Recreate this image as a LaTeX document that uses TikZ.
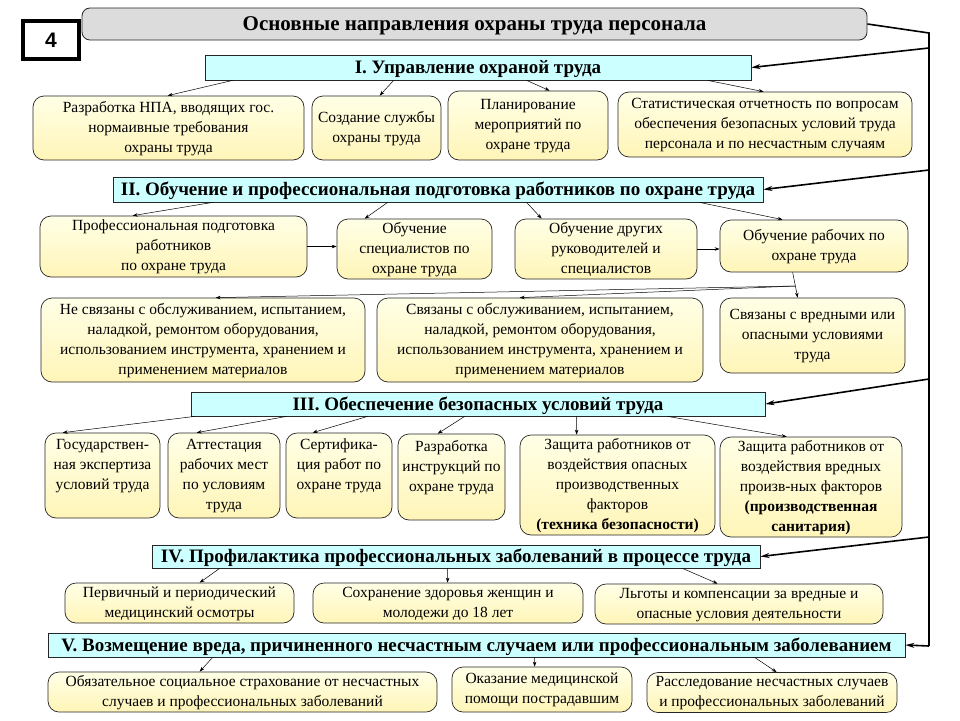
\documentclass[tikz,border=0pt]{standalone}
\usepackage{fontspec}
\setmainfont{Liberation Serif}
\newfontfamily\numfont{Liberation Sans}
\usetikzlibrary{arrows.meta,shadings,calc}
\definecolor{ytop}{HTML}{FFFFE6}
\definecolor{ybot}{HTML}{FFF5B8}
\definecolor{cyfill}{HTML}{CCFFFF}
\definecolor{gfill}{HTML}{DCDCDC}
\newcommand\tx[1]{\begin{tabular}{@{}c@{}}#1\end{tabular}}
\begin{document}
\begin{tikzpicture}[x=1pt,y=-1pt,
  ybox/.style={draw=black!85, line width=0.7pt, rounded corners=11pt, top color=ytop, bottom color=ybot, inner sep=0pt, font=\fontsize{15.5}{20}\selectfont},
  hbox/.style={draw=black!85, line width=0.8pt, fill=cyfill, inner sep=0pt, text height=12.5pt, text depth=0.5pt, font=\bfseries\fontsize{19}{20}\selectfont},
  arr/.style={-{Stealth[length=5pt,width=3.5pt]}, line width=0.5pt},
  busarr/.style={-{Stealth[length=9pt,width=5pt]}, line width=1.6pt},
  busline/.style={line width=1.6pt}]
\useasboundingbox (0,0) rectangle (960,720);
\fill[white] (0,0) rectangle (960,720);

% title
\node[draw=black!85, line width=0.8pt, rounded corners=8pt, fill=gfill, minimum width=785, minimum height=32, inner sep=0pt, text height=14pt, text depth=1pt, font=\bfseries\fontsize{21}{22}\selectfont] (T) at (474.5,24) {Основные направления охраны труда персонала};
\node[draw=black, line width=4pt, fill=white, minimum width=56, minimum height=38, inner sep=0pt, font=\numfont\bfseries\fontsize{21}{22}\selectfont] (N) at (51,40) {4};

% bus
\coordinate (bt) at (929,33);
\coordinate (bb) at (929,646);
\coordinate (b1) at (929,48);
\coordinate (b2) at (929,170);
\coordinate (b3) at (929,379);
\coordinate (b4) at (929,537);

% Section I
\node[hbox, minimum width=546, minimum height=25] (H1) at (478,67.5) {I. Управление охраной труда};
\node[ybox, minimum width=271, minimum height=64] (A1) at (168.5,128) {\tx{Разработка НПА, вводящих гос.\\нормаивные требования\\охраны труда}};
\node[ybox, minimum width=129, minimum height=64] (A2) at (376.5,128) {\tx{Создание службы\\охраны труда}};
\node[ybox, minimum width=160, minimum height=69] (A3) at (528,125.5) {\tx{Планирование\\мероприятий по\\охране труда}};
\node[ybox, minimum width=294, minimum height=65] (A4) at (765,124.5) {\tx{Статистическая отчетность по вопросам\\обеспечения безопасных условий  труда\\персонала и по несчастным случаям}};

% Section II
\node[hbox, minimum width=650, minimum height=25] (H2) at (438,189.5) {II. Обучение и профессиональная подготовка работников по охране труда};
\node[ybox, minimum width=267, minimum height=61] (B1) at (173.5,246.5) {\tx{Профессиональная подготовка\\работников\\по охране труда}};
\node[ybox, minimum width=155, minimum height=58] (B2) at (414.5,249) {\tx{Обучение\\специалистов по\\охране труда}};
\node[ybox, minimum width=182, minimum height=58] (B3) at (606,249) {\tx{Обучение других\\руководителей и\\специалистов}};
\node[ybox, minimum width=188, minimum height=52] (B4) at (814,246) {\tx{Обучение рабочих  по\\охране труда}};
\node[ybox, minimum width=324, minimum height=84] (C1) at (203,340) {\tx{Не связаны с обслуживанием, испытанием,\\наладкой, ремонтом оборудования,\\использованием инструмента, хранением и\\применением материалов}};
\node[ybox, minimum width=326, minimum height=84] (C2) at (540,340) {\tx{Связаны с  обслуживанием, испытанием,\\наладкой, ремонтом оборудования,\\использованием инструмента, хранением и\\применением материалов}};
\node[ybox, minimum width=185, minimum height=75] (C3) at (812.5,335.5) {\tx{Связаны с вредными или\\опасными условиями\\труда}};

% Section III
\node[hbox, minimum width=574, minimum height=24] (H3) at (478,404) {III. Обеспечение безопасных условий труда};
\node[ybox, minimum width=115, minimum height=85] (D1) at (102.5,475.5) {\tx{Государствен-\\ная экспертиза\\условий труда\\\mbox{}}};
\node[ybox, minimum width=112, minimum height=85] (D2) at (224,475.5) {\tx{Аттестация\\рабочих мест\\по условиям\\труда}};
\node[ybox, minimum width=106, minimum height=85] (D3) at (339,475.5) {\tx{Сертифика-\\ция работ по\\охране труда\\\mbox{}}};
\node[ybox, minimum width=107, minimum height=86] (D4) at (451.5,477) {\tx{Разработка\\инструкций по\\охране труда\\\mbox{}}};
\node[ybox, minimum width=195, minimum height=100] (D5) at (617.5,485) {\tx{Защита работников от\\воздействия  опасных\\производственных\\факторов\\\textbf{(техника безопасности)}}};
\node[ybox, minimum width=182, minimum height=100] (D6) at (811,487) {\tx{Защита работников от\\воздействия  вредных\\произв-ных факторов\\\textbf{(производственная}\\\textbf{санитария)}}};

% Section IV
\node[hbox, minimum width=608, minimum height=23] (H4) at (456,556.5) {IV. Профилактика профессиональных заболеваний в процессе труда};
\node[ybox, minimum width=229, minimum height=40] (E1) at (179.5,603) {\tx{Первичный и периодический\\медицинский осмотры}};
\node[ybox, minimum width=270, minimum height=40] (E2) at (448,603) {\tx{Сохранение здоровья женщин и\\молодежи до 18 лет}};
\node[ybox, minimum width=288, minimum height=38] (E3) at (739,604) {\tx{Льготы и компенсации за вредные и\\опасные условия деятельности}};

% Section V
\node[hbox, minimum width=857, minimum height=24] (H5) at (476.5,645) {V. Возмещение вреда, причиненного несчастным случаем или профессиональным заболеванием};
\node[ybox, minimum width=389, minimum height=40] (F1) at (242.5,692) {\tx{Обязательное социальное страхование от несчастных\\случаев и профессиональных заболеваний}};
\node[ybox, minimum width=180, minimum height=45] (F2) at (542,689.5) {\tx{Оказание медицинской\\помощи пострадавшим}};
\node[ybox, minimum width=250, minimum height=39] (F3) at (772,692.5) {\tx{Расследование несчастных случаев\\и профессиональных заболеваний}};

% bus lines
\draw[busline] (T.east) -- (bt) -- (bb);
\draw[busarr] (b1) -- (H1.east);
\draw[busarr] (b2) -- (H2.east);
\draw[busarr] (b3) -- (H3.east);
\draw[busarr] (b4) -- (H4.east);
\draw[busarr] (bb) -- (H5.east);

% I arrows
\draw[arr] ([xshift=28]H1.south west) -- ([xshift=135]A1.north west);
\draw[arr] ([xshift=189]H1.south west) -- ([xshift=68]A2.north west);
\draw[arr] ([xshift=322]H1.south west) -- ([xshift=102]A3.north west);
\draw[arr] ([xshift=503]H1.south west) -- ([xshift=146]A4.north west);

% II arrows
\draw[arr] ([xshift=100]H2.south west) -- ([xshift=93]B1.north west);
\draw[arr] ([xshift=275]H2.south west) -- ([xshift=28]B2.north west);
\draw[arr] ([xshift=414]H2.south west) -- ([xshift=27]B3.north west);
\draw[arr] ([xshift=587]H2.south west) -- ([xshift=63]B4.north west);
\draw[arr] (B1.east) -- (B1.east -| B2.west);
\draw[arr] (B3.east) -- (B3.east -| B4.west);
\draw[arr] ([xshift=73]B4.south west) -- ([xshift=78]C3.north west);
\coordinate (br) at (795,286);
\draw[arr] (br) -- ([xshift=175]C1.north west);
\draw[arr] (br) -- ([xshift=143]C2.north west);

% III arrows
\draw[arr] ([xshift=4]H3.south west) -- ([xshift=18]D1.north west);
\draw[arr] ([xshift=96]H3.south west) -- ([xshift=29]D2.north west);
\draw[arr] ([xshift=177]H3.south west) -- ([xshift=27]D3.north west);
\draw[arr] ([xshift=274]H3.south west) -- ([xshift=40]D4.north west);
\draw[arr] ([xshift=386]H3.south west) -- ([xshift=57]D5.north west);
\draw[arr] ([xshift=477]H3.south west) -- ([xshift=67]D6.north west);

% IV arrows
\draw[arr] ([xshift=68]H4.south west) -- ([xshift=135]E1.north west);
\draw[arr] ([xshift=296]H4.south west) -- ([xshift=135]E2.north west);
\draw[arr] ([xshift=531]H4.south west) -- ([xshift=123]E3.north west);

% V arrows
\draw[arr] ([xshift=165]H5.south west) -- ([xshift=152]F1.north west);
\draw[arr] ([xshift=487]H5.south west) -- ([xshift=83]F2.north west);
\draw[arr] ([xshift=707]H5.south west) -- ([xshift=130]F3.north west);
\end{tikzpicture}
\end{document}
